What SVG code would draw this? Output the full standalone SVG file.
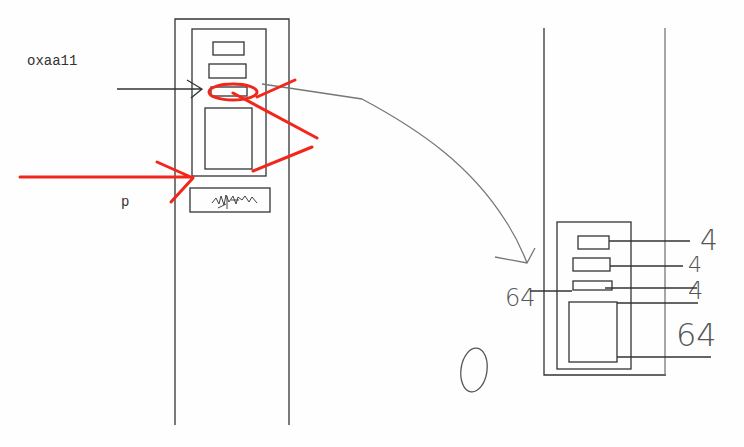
<svg xmlns="http://www.w3.org/2000/svg" width="744" height="447" viewBox="0 0 744 447">
<style>
.k{fill:none;stroke:#333;stroke-width:1.3}
.g{fill:none;stroke:#777;stroke-width:1.3}
.r{fill:none;stroke:#f2261a;stroke-width:3;stroke-linecap:round;stroke-linejoin:round}
.mono{font-family:"Liberation Mono","DejaVu Sans Mono",monospace;font-size:14px;fill:#333}
.hw{font-family:"DejaVu Sans",sans-serif;font-weight:200;fill:#555}
</style>
<rect width="744" height="447" fill="#fefefe"/>
<g id="left-stack">
<path class="k" d="M175,425 V19 H289 V425"/>
<rect class="k" x="192" y="29" width="74" height="147"/>
<rect class="k" x="213" y="42" width="31" height="13"/>
<rect class="k" x="209" y="64" width="37" height="14"/>
<rect class="k" x="211" y="87" width="36" height="9"/>
<rect class="k" x="205" y="108" width="47" height="61"/>
<rect class="k" x="190" y="188" width="80" height="24"/>
<path fill="none" stroke="#444" stroke-width="1" d="M212,203 l4,-5 l3,6 l2,-8 l3,9 l2,-10 l3,7 l4,-6 l3,8 l2,-7 l4,3 l3,-4 l4,6 l3,-5 l5,6 M227,196 v13 M218,208 l8,-4 M231,200 h8"/>
</g>
<g id="right-stack">
<path class="k" d="M544,28 V375 H666"/>
<path class="g" d="M665,28 V375"/>
<rect class="k" x="557" y="222" width="74" height="147"/>
<rect class="k" x="578" y="236" width="31" height="13"/>
<rect class="k" x="573" y="258" width="37" height="13"/>
<rect class="k" x="573" y="281" width="39" height="9"/>
<rect class="k" x="569" y="302" width="48" height="60"/>
</g>
<g id="labels">
<text class="mono" x="27" y="65">oxaa11</text>
<text class="mono" x="121" y="206">p</text>
<text class="hw" x="700" y="250" font-size="28">4</text>
<text class="hw" x="688" y="272" font-size="22">4</text>
<text class="hw" x="688" y="299" font-size="24">4</text>
<text class="hw" x="676" y="346" font-size="32">64</text>
<text class="hw" x="505" y="306" font-size="24">64</text>
<ellipse cx="474" cy="370" rx="13" ry="22" fill="none" stroke="#555" stroke-width="1.3" transform="rotate(8 474 370)"/>
</g>
<g id="connectors">
<path class="k" d="M117,89 H202 M187,80 L202,89 L191,98"/>
<path class="g" d="M262,84 L362,99 C420,130 470,165 505,220 C515,235 522,250 527,263 M495,257 L527,263 L535,248"/>
<path class="k" d="M609,241 H690 M610,266 H683 M605,288 H697 M617,303 H698 M617,357 H711 M530,291 H572"/>
<ellipse class="r" cx="233" cy="92" rx="24" ry="8"/>
<path class="r" d="M233,93 L317,138 M257,97 L295,80 M253,171 L312,147"/>
<path class="r" d="M20,177 H193 M157,162 L193,178 L171,202"/>
</g>
</svg>
